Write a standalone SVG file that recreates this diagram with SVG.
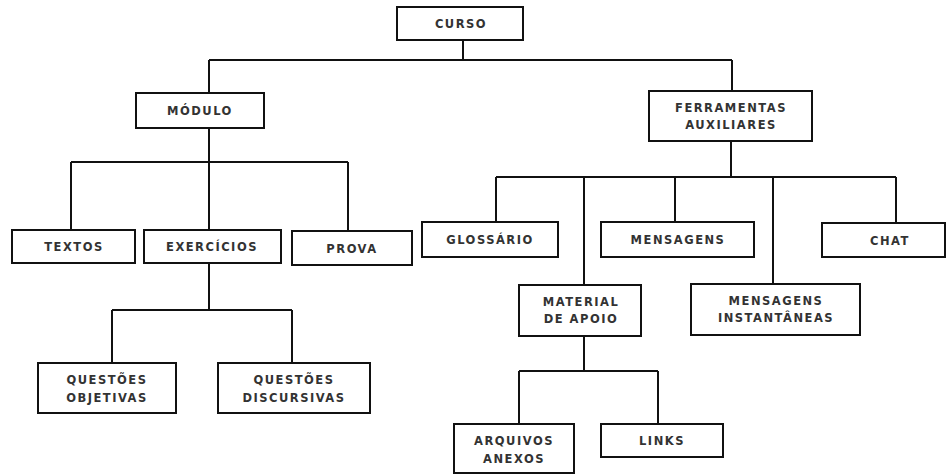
<svg xmlns="http://www.w3.org/2000/svg" width="950" height="475" viewBox="0 0 950 475">
<style>
.box{fill:#fff;stroke:#111;stroke-width:2}
.lbl{font-family:"DejaVu Sans",Verdana,sans-serif;font-weight:bold;font-size:11.5px;letter-spacing:1.5px;fill:#333;text-anchor:middle}
.con{fill:none;stroke:#111;stroke-width:2}
</style>
<rect width="950" height="475" fill="#fff"/>
<g id="connectors" class="con">
<path d="M463 40V60M209 60H732M209 60V93M732 60V91"/>
<path d="M209 128V162M71 162H348M71 162V230M209 162V230M348 162V231"/>
<path d="M209 263V310M112 310H292M112 310V363M292 310V363"/>
<path d="M731 141V177M496 177H896M496 177V222M584 177V285M675 177V222M773 177V284M896 177V223"/>
<path d="M584 336V371M519 371H658M519 371V424M658 371V424"/>
</g>
<g id="curso"><rect class="box" x="397" y="7" width="126" height="33"/><text class="lbl" x="461" y="28">CURSO</text></g>
<g id="modulo"><rect class="box" x="136" y="93" width="128" height="35"/><text class="lbl" x="200" y="115">MÓDULO</text></g>
<g id="ferramentas"><rect class="box" x="649" y="91" width="163" height="50"/><text class="lbl" x="731" y="112">FERRAMENTAS</text><text class="lbl" x="731" y="129">AUXILIARES</text></g>
<g id="textos"><rect class="box" x="12" y="230" width="123" height="33"/><text class="lbl" x="74" y="251">TEXTOS</text></g>
<g id="exercicios"><rect class="box" x="144" y="230" width="137" height="33"/><text class="lbl" x="212" y="251">EXERCÍCIOS</text></g>
<g id="prova"><rect class="box" x="292" y="231" width="120" height="34"/><text class="lbl" x="352" y="253">PROVA</text></g>
<g id="glossario"><rect class="box" x="422" y="222" width="136" height="35"/><text class="lbl" x="490" y="244">GLOSSÁRIO</text></g>
<g id="mensagens"><rect class="box" x="601" y="222" width="153" height="35"/><text class="lbl" x="678" y="244">MENSAGENS</text></g>
<g id="chat"><rect class="box" x="822" y="223" width="123" height="34"/><text class="lbl" x="890" y="245">CHAT</text></g>
<g id="material"><rect class="box" x="519" y="285" width="122" height="51"/><text class="lbl" x="581" y="306">MATERIAL</text><text class="lbl" x="581" y="323">DE APOIO</text></g>
<g id="mensagens-instantaneas"><rect class="box" x="691" y="284" width="169" height="51"/><text class="lbl" x="776" y="305">MENSAGENS</text><text class="lbl" x="776" y="322">INSTANTÂNEAS</text></g>
<g id="questoes-objetivas"><rect class="box" x="38" y="363" width="138" height="50"/><text class="lbl" x="107" y="384">QUESTÕES</text><text class="lbl" x="107" y="402">OBJETIVAS</text></g>
<g id="questoes-discursivas"><rect class="box" x="218" y="363" width="152" height="50"/><text class="lbl" x="294" y="384">QUESTÕES</text><text class="lbl" x="294" y="402">DISCURSIVAS</text></g>
<g id="arquivos-anexos"><rect class="box" x="454" y="424" width="120" height="49"/><text class="lbl" x="514" y="445">ARQUIVOS</text><text class="lbl" x="514" y="463">ANEXOS</text></g>
<g id="links"><rect class="box" x="601" y="424" width="122" height="33"/><text class="lbl" x="662" y="445">LINKS</text></g>
</svg>
